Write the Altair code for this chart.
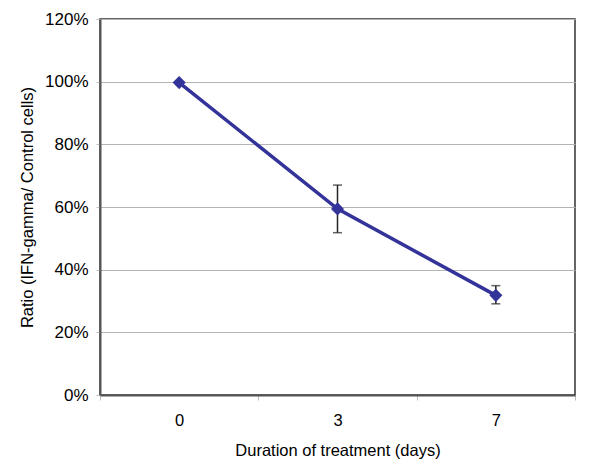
import altair as alt
import pandas as pd

days = ["0", "3", "7"]
ratio = [0.997, 0.594, 0.318]
err_low = [0.997, 0.518, 0.291]
err_high = [0.997, 0.670, 0.349]

df = pd.DataFrame({"day": days, "ratio": ratio, "lo": err_low, "hi": err_high})
df_err = df[df["day"] != "0"]

FONT = "Liberation Sans"
FS = 16.5
xscale = alt.Scale(type="band", domain=days, paddingInner=0, paddingOuter=0)

x_enc = alt.X("day:O", scale=xscale, bandPosition=0.5,
              sort=days,
              axis=alt.Axis(title="Duration of treatment (days)", labelAngle=0,
                            tickBand="extent", tickColor="#bbbbbb", tickSize=5,
                            domainColor="#555555", domainWidth=2,
                            labelFontSize=FS, titleFontSize=FS, labelPadding=12,
                            titlePadding=14, labelColor="#000", titleColor="#000",
                            labelFont=FONT, titleFont=FONT, titleFontWeight="normal", grid=False))
y_scale = alt.Scale(domain=[0, 1.2], nice=False)
y_enc = alt.Y("ratio:Q", scale=y_scale,
              axis=alt.Axis(title="Ratio (IFN-gamma/ Control cells)", format=".0%",
                            values=[0, 0.2, 0.4, 0.6, 0.8, 1.0, 1.2],
                            tickColor="#bbbbbb", tickSize=4, gridColor="#b4b4b4", gridWidth=1,
                            domainColor="#555555", domainWidth=2,
                            labelFontSize=17, titleFontSize=FS, labelPadding=8,
                            titlePadding=9, labelColor="#000", titleColor="#000",
                            labelFont=FONT, titleFont=FONT, titleFontWeight="normal"))

line = alt.Chart(df).mark_line(color="#333399", strokeWidth=3.5).encode(x=x_enc, y=y_enc)
pts = alt.Chart(df).mark_point(shape="diamond", filled=True, color="#333399", size=170, opacity=1).encode(x=x_enc, y=y_enc)
rule = alt.Chart(df_err).mark_rule(color="#222222", strokeWidth=1.5).encode(
    x=alt.X("day:O", scale=xscale, bandPosition=0.5, sort=days),
    y=alt.Y("lo:Q", scale=y_scale), y2="hi:Q")
cap_lo = alt.Chart(df_err).mark_tick(color="#222222", thickness=1.5, size=9).encode(
    x=alt.X("day:O", scale=xscale, bandPosition=0.5, sort=days),
    y=alt.Y("lo:Q", scale=y_scale))
cap_hi = alt.Chart(df_err).mark_tick(color="#222222", thickness=1.5, size=9).encode(
    x=alt.X("day:O", scale=xscale, bandPosition=0.5, sort=days),
    y=alt.Y("hi:Q", scale=y_scale))

chart = alt.layer(line, rule, cap_lo, cap_hi, pts).properties(
    width=475, height=376,
    padding={"left": 92, "top": 11, "right": 15, "bottom": 70},
    autosize=alt.AutoSizeParams(type="none"),
    background="white",
).configure_view(stroke="#333333", strokeWidth=1.5)

chart.save("out.html", embed_options={"renderer": "svg", "actions": False})
